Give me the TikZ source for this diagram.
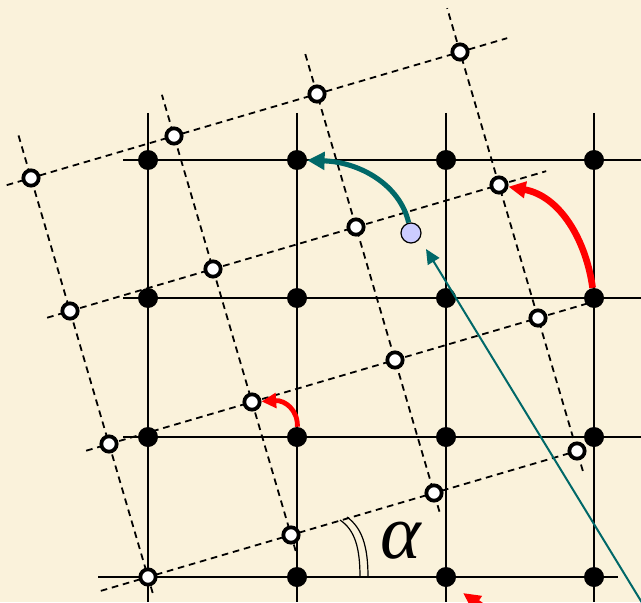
\documentclass[tikz,border=0pt]{standalone}
\usepackage{fontspec}
\newfontfamily\libserif{Liberation Serif}
\usetikzlibrary{arrows.meta}
\definecolor{bg}{RGB}{250,242,219}
\definecolor{tealc}{RGB}{0,104,104}
\definecolor{lblue}{RGB}{204,204,255}
\begin{document}
\begin{tikzpicture}[x=0.75pt,y=-0.75pt,
  gridline/.style={line width=1.5pt},
  latline/.style={line width=1.35pt, dash pattern=on 5pt off 3.6pt},
  fdot/.style={circle,fill=black,inner sep=0pt,minimum size=15pt},
  odot/.style={circle,draw=black,fill=white,line width=2.8pt,inner sep=0pt,minimum size=11.5pt},
  bdot/.style={circle,draw=black,fill=lblue,line width=0.9pt,inner sep=0pt,minimum size=15pt},
  redarrow/.style={red,line width=5pt,-{Triangle[length=13pt,width=12pt]}},
  redsmall/.style={red,line width=3.6pt,-{Triangle[length=11pt,width=11pt]}},
  tealarc/.style={tealc,line width=3.8pt,-{Triangle[length=13pt,width=13pt]}},
  tealline/.style={tealc,line width=1.5pt,-{Triangle[length=11pt,width=10pt]}},
  anglearc/.style={line width=0.9pt}]
\useasboundingbox (0,0) rectangle (641,602);
\clip (0,0) rectangle (641,602);
\fill[bg] (0,0) rectangle (641,602);
% square grid
\foreach \x in {148,297,446,594} \draw[gridline] (\x,113) -- (\x,602);
\foreach \y in {160,298,437} \draw[gridline] (123,\y) -- (641,\y);
\draw[gridline] (98,577) -- (618,577);
% rotated lattice lines
\foreach \k/\s/\e in {0/-0.33/3, 1/-0.16/3.4, 2/-0.16/3.33, 3/-0.17/3.33}
  \draw[latline] ({148+143*\s-39*\k},{577-42*\s-133*\k}) -- ({148+143*\e-39*\k},{577-42*\e-133*\k});
\foreach \j/\s/\e in {0/-0.12/3.33, 1/-0.12/3.31, 2/-0.14/3.33, 3/-0.15/3.33}
  \draw[latline] ({148+143*\j-39*\s},{577-42*\j-133*\s}) -- ({148+143*\j-39*\e},{577-42*\j-133*\e});
% angle mark
\draw[anglearc] (360,577) .. controls (360,548) and (355,530) .. (340,520);
\draw[anglearc] (368,577) .. controls (368,546) and (362,528) .. (347,517);
\node (alpha) at (401,541) {\fontsize{58}{58}\selectfont\libserif\itshape α};
% grid dots
\foreach \i/\x in {0/148,1/297,2/446,3/594}
  \foreach \r/\y in {1/437,2/298,3/160}
    \node[fdot] (g\i\r) at (\x,\y) {};
\foreach \i/\x in {1/297,2/446,3/594}
  \node[fdot] (g\i0) at (\x,577) {};
% rotated lattice points
\foreach \j in {0,1,2,3}
  \foreach \k in {0,1,2,3}
    \node[odot] (r\j\k) at ({148+143*\j-39*\k},{577-42*\j-133*\k}) {};
\node[bdot] (lb) at (411,233) {};
% arrows
\coordinate (tl0) at (644,606);
\coordinate (tl1) at (426,249);
\draw[tealline] (tl0) -- (tl1);
\draw[tealarc] (lb) .. controls (400,185) and (360,162) .. (g13);
\draw[redarrow] (g32) .. controls (586,240) and (560,196) .. (r32);
\draw[redsmall] (g11) .. controls (298,410) and (285,400) .. (r11);
\coordinate (rb0) at (510,626);
\coordinate (rb1) at (463,593);
\draw[redarrow] (rb0) -- (rb1);
\end{tikzpicture}
\end{document}
